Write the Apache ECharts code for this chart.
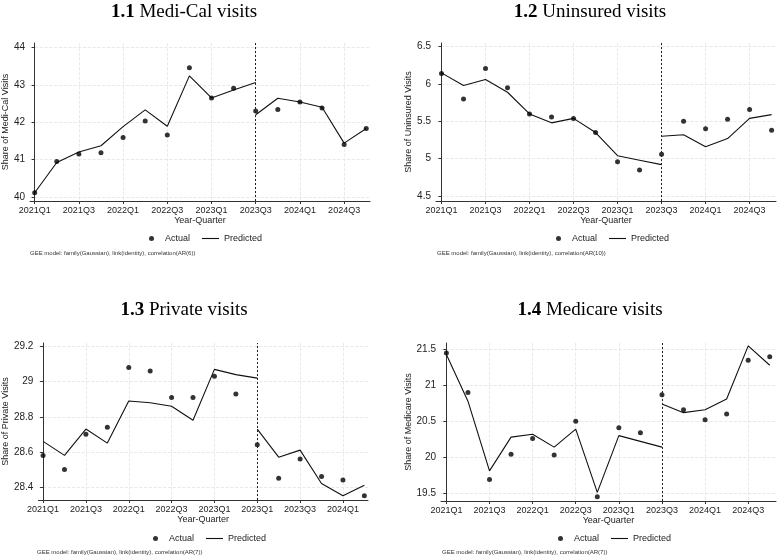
<!DOCTYPE html>
<html>
<head>
<meta charset="utf-8">
<script src="https://cdn.jsdelivr.net/npm/echarts@6/dist/echarts.min.js"></script>
<style>
html, body { margin: 0; padding: 0; background: #fff; }
#chart1 { width: 778px; height: 557px; }
</style>
</head>
<body>
<div id="chart1"></div>
<script>
// quarter index 0 = 2021Q1 ... 15 = 2024Q4, policy break at index 10
var tickPos = [0, 2, 4, 6, 8, 10, 12, 14];
var tickLabels = ['2021Q1', '2021Q3', '2022Q1', '2022Q3', '2023Q1', '2023Q3', '2024Q1', '2024Q3'];
var tickLabelsPrivate = ['2021Q1', '2021Q3', '2022Q1', '2022Q3', '2023Q1', '2023Q1', '2023Q3', '2024Q1'];
var breakAt = 10;

// 1.1 Medi-Cal
var mediActual = [40.11, 40.95, 41.15, 41.18, 41.59, 42.03, 41.66, 43.46, 42.65, 42.91, 42.30, 42.34, 42.54, 42.38, 41.40, 41.83];
var mediPredPre = [40.11, 40.92, 41.20, 41.37, 41.88, 42.33, 41.89, 43.24, 42.65, 42.86, 43.06];
var mediPredPost = [42.20, 42.64, 42.54, 42.40, 41.44, 41.83];
var mediTicks = [40, 41, 42, 43, 44];

// 1.2 Uninsured
var uninsActual = [6.14, 5.80, 6.21, 5.95, 5.60, 5.56, 5.54, 5.35, 4.96, 4.85, 5.06, 5.50, 5.40, 5.53, 5.66, 5.38];
var uninsPredPre = [6.15, 5.98, 6.06, 5.89, 5.60, 5.48, 5.54, 5.35, 5.04, 4.98, 4.92];
var uninsPredPost = [5.30, 5.32, 5.16, 5.27, 5.54, 5.59];
var uninsTicks = [4.5, 5, 5.5, 6, 6.5];

// 1.3 Private
var privActual = [28.58, 28.50, 28.70, 28.74, 29.08, 29.06, 28.91, 28.91, 29.03, 28.93, 28.64, 28.45, 28.56, 28.46, 28.44, 28.35];
var privPredPre = [28.66, 28.58, 28.73, 28.65, 28.89, 28.88, 28.86, 28.78, 29.07, 29.04, 29.02];
var privPredPost = [28.73, 28.57, 28.61, 28.42, 28.35, 28.41];
var privTicks = [28.4, 28.6, 28.8, 29, 29.2];

// 1.4 Medicare
var mcareActual = [21.45, 20.90, 19.69, 20.04, 20.26, 20.03, 20.50, 19.45, 20.41, 20.34, 20.87, 20.66, 20.52, 20.60, 21.35, 21.40];
var mcarePredPre = [21.43, 20.78, 19.81, 20.28, 20.32, 20.14, 20.39, 19.51, 20.30, 20.22, 20.14];
var mcarePredPost = [20.74, 20.62, 20.66, 20.81, 21.55, 21.28];
var mcareTicks = [19.5, 20, 20.5, 21, 21.5];

var panels = [
  { num: '1.1', title: 'Medi-Cal visits', yName: 'Share of Medi-Cal Visits', note: 'GEE model: family(Gaussian), link(identity), correlation(AR(6))',
    actual: mediActual, pre: mediPredPre, post: mediPredPost, yTicks: mediTicks, labels: tickLabels,
    grid: { left: 29, top: 43, width: 341, height: 158 }, xMin: -0.21, xMax: 15.17, yMin: 39.89, yMax: 44.12,
    titleX: 184, titleY: 12, nameGap: 20, legendX: 144, legendY: 229, noteX: 30, noteY: 253 },
  { num: '1.2', title: 'Uninsured visits', yName: 'Share of Uninsured Visits', note: 'GEE model: family(Gaussian), link(identity), correlation(AR(10))',
    actual: uninsActual, pre: uninsPredPre, post: uninsPredPost, yTicks: uninsTicks, labels: tickLabels,
    grid: { left: 436, top: 43, width: 340, height: 158 }, xMin: -0.25, xMax: 15.2, yMin: 4.433, yMax: 6.55,
    titleX: 590, titleY: 12, nameGap: 21, legendX: 551, legendY: 229, noteX: 437, noteY: 253 },
  { num: '1.3', title: 'Private visits', yName: 'Share of Private Visits', note: 'GEE model: family(Gaussian), link(identity), correlation(AR(7))',
    actual: privActual, pre: privPredPre, post: privPredPost, yTicks: privTicks, labels: tickLabelsPrivate,
    grid: { left: 36, top: 343, width: 332, height: 157 }, xMin: -0.22, xMax: 15.17, yMin: 28.326, yMax: 29.22,
    titleX: 184, titleY: 310, nameGap: 26, legendX: 148, legendY: 529, noteX: 37, noteY: 552 },
  { num: '1.4', title: 'Medicare visits', yName: 'Share of Medicare Visits', note: 'GEE model: family(Gaussian), link(identity), correlation(AR(7))',
    actual: mcareActual, pre: mcarePredPre, post: mcarePredPost, yTicks: mcareTicks, labels: tickLabels,
    grid: { left: 441, top: 343, width: 335, height: 158 }, xMin: -0.25, xMax: 15.29, yMin: 19.39, yMax: 21.59,
    titleX: 590, titleY: 310, nameGap: 26, legendX: 553, legendY: 529, noteX: 442, noteY: 552 }
];

function pairs(vals, start) {
  return vals.map(function (v, i) { return [start + i, v]; });
}

var sans = 'Liberation Sans';
var axisColor = '#333';
var gridColor = '#e3e3e3';

var option = {
  backgroundColor: '#fff',
  animation: false,
  grid: [], xAxis: [], yAxis: [], series: [], legend: [], graphic: []
};

panels.forEach(function (p, k) {
  option.grid.push(p.grid);
  option.xAxis.push({
    type: 'value', gridIndex: k, min: p.xMin, max: p.xMax,
    name: 'Year-Quarter', nameLocation: 'middle', nameGap: 15,
    nameTextStyle: { fontFamily: sans, fontSize: 9, color: '#222' },
    axisLine: { show: true, onZero: false, lineStyle: { color: axisColor, width: 1 } },
    axisTick: { show: true, length: 3, customValues: tickPos, lineStyle: { color: axisColor } },
    axisLabel: {
      customValues: tickPos, margin: 5, fontFamily: sans, fontSize: 9, color: '#222',
      formatter: (function (labels) { return function (v) { return labels[Math.round(v) / 2]; }; })(p.labels)
    },
    splitLine: { show: true, lineStyle: { color: gridColor, type: 'dashed', width: 0.8 } }
  });
  option.yAxis.push({
    type: 'value', gridIndex: k, min: p.yMin, max: p.yMax,
    name: p.yName, nameLocation: 'middle', nameGap: p.nameGap, nameRotate: 90,
    nameTextStyle: { fontFamily: sans, fontSize: 9, color: '#222' },
    axisLine: { show: true, lineStyle: { color: axisColor, width: 1 } },
    axisTick: { show: true, length: 3, customValues: p.yTicks, lineStyle: { color: axisColor } },
    axisLabel: { customValues: p.yTicks, margin: 5, fontFamily: sans, fontSize: 10, color: '#222' },
    splitLine: { show: true, lineStyle: { color: gridColor, type: 'dashed', width: 0.8 } }
  });
  var lineStyle = { color: '#111', width: 1.1 };
  option.series.push({
    name: 'Predicted', type: 'line', xAxisIndex: k, yAxisIndex: k,
    data: pairs(p.pre, 0), symbol: 'none', lineStyle: lineStyle, itemStyle: { color: '#111' }, z: 2,
    markLine: {
      silent: true, symbol: 'none', label: { show: false },
      lineStyle: { color: '#222', type: [2, 2], width: 1 },
      data: [{ xAxis: breakAt }]
    }
  });
  option.series.push({
    name: 'Predicted', type: 'line', xAxisIndex: k, yAxisIndex: k,
    data: pairs(p.post, breakAt), symbol: 'none', lineStyle: lineStyle, itemStyle: { color: '#111' }, z: 2
  });
  option.series.push({
    name: 'Actual', type: 'scatter', xAxisIndex: k, yAxisIndex: k,
    data: pairs(p.actual, 0), symbol: 'circle', symbolSize: 5, itemStyle: { color: '#000' }, z: 3
  });
  option.legend.push({
    left: p.legendX, top: p.legendY, itemWidth: 17, itemHeight: 5, itemGap: 12,
    selectedMode: false, symbolKeepAspect: true,
    textStyle: { fontFamily: sans, fontSize: 9, color: '#222' },
    data: [
      { name: 'Actual', icon: 'circle' },
      { name: 'Predicted', icon: 'path://M0,0H17V1.1H0Z' }
    ]
  });
  option.graphic.push({
    type: 'text', x: p.titleX, y: p.titleY, silent: true,
    style: {
      text: '{b|' + p.num + '} ' + p.title, align: 'center', verticalAlign: 'middle',
      fontFamily: 'Liberation Serif', fontSize: 19, fill: '#000',
      rich: { b: { fontWeight: 'bold', fontFamily: 'Liberation Serif', fontSize: 19 } }
    }
  });
  option.graphic.push({
    type: 'text', x: p.noteX, y: p.noteY, silent: true,
    style: { text: p.note, align: 'left', verticalAlign: 'middle', fontFamily: sans, fontSize: 6, fill: '#333' }
  });
});

var myChart = echarts.init(document.getElementById('chart1'));
myChart.setOption(option);
</script>
</body>
</html>
